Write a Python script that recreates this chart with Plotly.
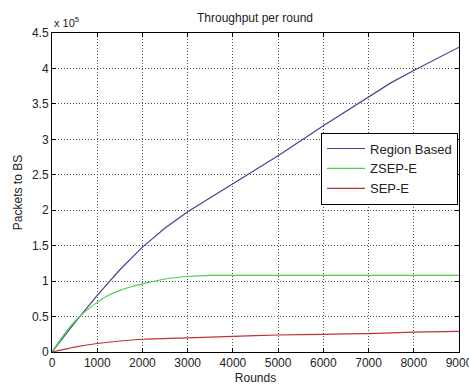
import plotly.graph_objects as go

rounds_rb = [0, 500, 1000, 1500, 2000, 2500, 3000, 3500, 4000, 5000, 6000, 7000, 7500, 8000, 9000]
region_based = [0, 41000, 80000, 116000, 148000, 175000, 198000, 218000, 237000, 277000, 319000, 360000, 380000, 397000, 430000]

rounds_z = [0, 250, 500, 750, 1000, 1250, 1500, 1750, 2000, 2500, 3000, 3500, 4000, 5000, 6000, 7000, 8000, 9000]
zsep_e = [0, 23000, 43000, 58000, 70000, 80000, 87000, 92000, 96000, 103000, 106500, 108000, 108000, 108000, 108000, 108000, 108000, 108000]

rounds_s = [0, 500, 1000, 1500, 2000, 3000, 4000, 5000, 6000, 7000, 8000, 9000]
sep_e = [0, 7000, 12000, 15500, 18000, 20000, 22000, 24000, 25000, 26000, 28000, 29000]

x_ticks = [0, 1000, 2000, 3000, 4000, 5000, 6000, 7000, 8000, 9000]
y_ticks = [0, 50000, 100000, 150000, 200000, 250000, 300000, 350000, 400000, 450000]
y_tick_text = ["0", "0.5", "1", "1.5", "2", "2.5", "3", "3.5", "4", "4.5"]

font = "Liberation Sans, Arial, sans-serif"
txt = "#222222"

fig = go.Figure()
fig.add_trace(go.Scatter(x=rounds_rb, y=region_based, mode="lines", name="Region Based",
                         line=dict(color="#45458f", width=1.2)))
fig.add_trace(go.Scatter(x=rounds_z, y=zsep_e, mode="lines", name="ZSEP-E",
                         line=dict(color="#4ccf4c", width=1.2, shape="spline", smoothing=0.6)))
fig.add_trace(go.Scatter(x=rounds_s, y=sep_e, mode="lines", name="SEP-E",
                         line=dict(color="#c0303c", width=1.2, shape="spline", smoothing=0.6)))

axis_common = dict(showline=True, linecolor="black", linewidth=1, mirror="ticks",
                   ticks="inside", ticklen=4, tickcolor="black", automargin=False,
                   showgrid=True, gridcolor="#555555", griddash="1px,2px", gridwidth=1,
                   zeroline=False, tickfont=dict(family=font, size=12, color=txt))

fig.update_xaxes(range=[0, 9000], tickvals=x_ticks, ticklabeloverflow="allow",
                 title=dict(text="Rounds", font=dict(family=font, size=12, color=txt), standoff=6),
                 **axis_common)
fig.update_yaxes(range=[0, 450000], tickvals=y_ticks, ticktext=y_tick_text,
                 title=dict(text="Packets to BS", font=dict(family=font, size=12, color=txt), standoff=6),
                 **axis_common)

fig.update_layout(
    width=469, height=385,
    margin=dict(l=52, r=10, t=33, b=33),
    paper_bgcolor="white", plot_bgcolor="white",
    title=dict(text="Throughput per round", x=255 / 469, xanchor="center",
               y=1 - 18 / 385, yanchor="middle",
               font=dict(family=font, size=12, color=txt)),
    legend=dict(x=0.661, y=0.688, xanchor="left", yanchor="top",
                bordercolor="black", borderwidth=1, bgcolor="white",
                font=dict(family=font, size=13, color=txt),
                tracegroupgap=0, itemwidth=38),
    showlegend=True,
    annotations=[dict(text="x 10<sup>5</sup>", xref="paper", yref="paper",
                      x=0.0, y=1 + 11 / 319, xanchor="left", yanchor="middle",
                      showarrow=False, font=dict(family=font, size=11, color=txt))],
)

fig.write_html("out.html")
